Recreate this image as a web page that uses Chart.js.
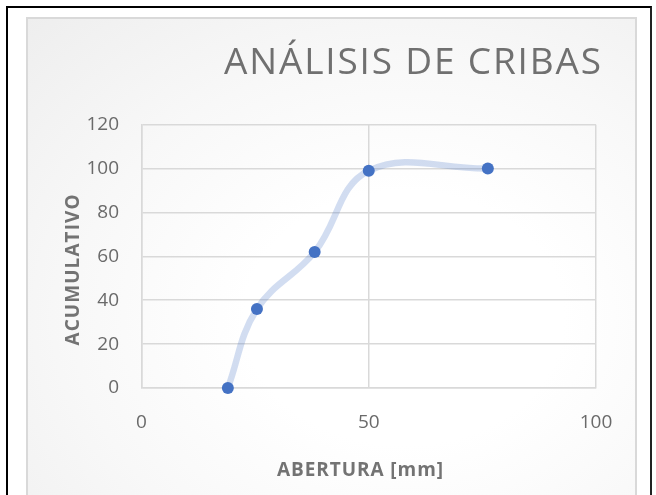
<!DOCTYPE html>
<html>
<head>
<meta charset="utf-8">
<script src="https://cdn.jsdelivr.net/npm/chart.js@4.4.1/dist/chart.umd.min.js"></script>
<style>
  html, body { margin: 0; padding: 0; width: 656px; height: 495px; overflow: hidden; background: #ffffff; }
  #outer { position: absolute; left: 6px; top: 6px; width: 646px; height: 520px; box-sizing: border-box;
           border-left: 2px solid #000; border-top: 2px solid #000; border-right: 2px solid #222; }
  #inner { position: absolute; left: 26px; top: 17px; width: 611px; height: 520px; box-sizing: border-box;
           border: 2px solid #d9d9d9;
           background: radial-gradient(ellipse at 62% 58%, #ffffff 30%, #f8f8f8 62%, #eeeeee 100%); }
  #wrap { position: absolute; left: 0; top: 0; width: 656px; height: 495px; }
</style>
</head>
<body>
<div id="outer"></div>
<div id="inner"></div>
<div id="wrap"><canvas id="c" width="656" height="495"></canvas></div>
<script>
// ---- data ----
const aberturaMm = [19, 25.4, 38.1, 50, 76.2];
const acumulativo = [0, 36, 62, 99, 100];
const xTickValues = [0, 50, 100];
const yTickValues = [0, 20, 40, 60, 80, 100, 120];
const chartTitle = 'ANÁLISIS DE CRIBAS';
const xAxisTitle = 'ABERTURA [mm]';
const yAxisTitle = 'ACUMULATIVO';

const points = aberturaMm.map((x, i) => ({ x: x, y: acumulativo[i] }));

function drawSpaced(ctx, text, font, color, x, y, width, angle) {
  ctx.save();
  ctx.font = font;
  ctx.fillStyle = color;
  ctx.textAlign = 'left';
  ctx.textBaseline = 'alphabetic';
  if ('letterSpacing' in ctx) ctx.letterSpacing = '0px';
  const w = ctx.measureText(text).width;
  if ('letterSpacing' in ctx) ctx.letterSpacing = ((width - w) / (text.length - 1)) + 'px';
  ctx.translate(x, y);
  ctx.rotate(angle);
  ctx.fillText(text, 0, 0);
  ctx.restore();
}

const titlesPlugin = {
  id: 'titlesPlugin',
  afterDraw(chart) {
    const ctx = chart.ctx;
    drawSpaced(ctx, chartTitle, '400 37px "Open Sans"', '#707070', 224, 74, 377, 0);
    drawSpaced(ctx, xAxisTitle, 'bold 19px "Open Sans"', '#737373', 277, 475.5, 166, 0);
    drawSpaced(ctx, yAxisTitle, 'bold 19px "Open Sans"', '#737373', 78.5, 345.5, 151, -Math.PI / 2);
  }
};

const tickFont = { family: '"Open Sans"', size: 19 };
const gridColor = '#d9d9d9';

new Chart(document.getElementById('c'), {
  type: 'scatter',
  data: {
    datasets: [{
      data: points,
      showLine: true,
      tension: 0.4,
      borderColor: 'rgba(68,114,196,0.24)',
      borderWidth: 6.5,
      pointRadius: 6,
      pointHoverRadius: 6,
      pointBackgroundColor: '#4472C4',
      pointBorderColor: '#4472C4',
      pointBorderWidth: 0,
      clip: false
    }]
  },
  options: {
    responsive: false,
    animation: false,
    events: [],
    layout: { padding: { left: 0, top: 124.7, right: 60, bottom: 0 } },
    plugins: { legend: { display: false }, tooltip: { enabled: false }, title: { display: false } },
    scales: {
      x: {
        type: 'linear',
        min: xTickValues[0],
        max: xTickValues[xTickValues.length - 1],
        afterBuildTicks: (s) => { s.ticks = xTickValues.map(v => ({ value: v })); },
        afterFit: (s) => { s.height = 107; },
        ticks: { font: tickFont, color: '#6a6a6a', padding: 23.5, maxRotation: 0 },
        grid: { color: gridColor, lineWidth: 1.5, drawTicks: false },
        border: { color: gridColor, width: 1.5 }
      },
      y: {
        type: 'linear',
        min: yTickValues[0],
        max: yTickValues[yTickValues.length - 1],
        afterBuildTicks: (s) => { s.ticks = yTickValues.map(v => ({ value: v })); },
        afterFit: (s) => { s.width = 141.5; },
        ticks: { font: tickFont, color: '#6a6a6a', padding: 22.5 },
        grid: { color: gridColor, lineWidth: 1.5, drawTicks: false },
        border: { color: gridColor, width: 1.5 }
      }
    }
  },
  plugins: [titlesPlugin]
});
</script>
</body>
</html>
